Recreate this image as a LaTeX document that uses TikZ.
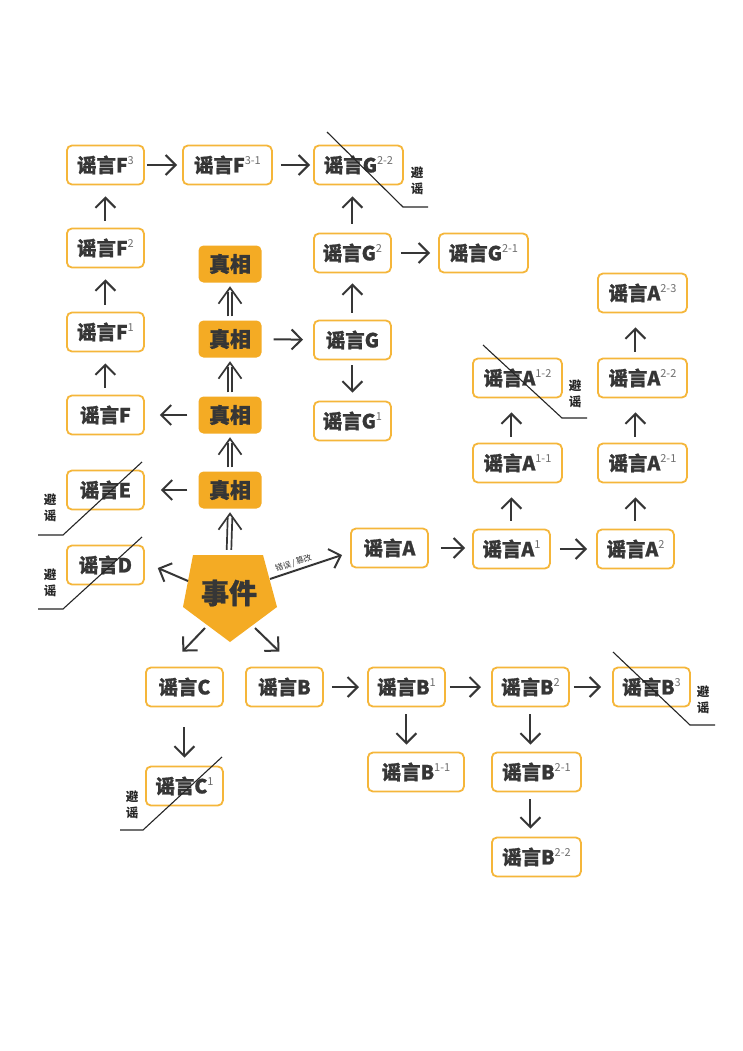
\documentclass[tikz,border=0pt]{standalone}
\usepackage{fontspec}
\setmainfont{Noto Sans CJK SC}[BoldFeatures={FakeBold=1.0}]
\newfontfamily\plainf{Noto Sans CJK SC}
\usetikzlibrary{arrows.meta}
\definecolor{bord}{HTML}{F5B63A}
\definecolor{fillo}{HTML}{F4AB24}
\definecolor{ink}{HTML}{363636}
\definecolor{supc}{HTML}{6E6E6E}
\newcommand\sx[1]{\raisebox{7.5pt}{\mdseries\fontsize{11pt}{11pt}\selectfont\color{supc}#1}}
\newcommand\dblup[2]{%
  \draw[dl] ([xshift=-2.3pt,yshift=4pt]#1.north) -- ([xshift=-2.3pt,yshift=-9pt]#2.south);
  \draw[dl] ([xshift=2.3pt,yshift=4pt]#1.north) -- ([xshift=2.3pt,yshift=-9pt]#2.south);
  \draw[dl] ([xshift=-11.5pt,yshift=-21pt]#2.south) -- ([yshift=-5pt]#2.south) -- ([xshift=11.5pt,yshift=-21pt]#2.south);}
\begin{document}
\begin{tikzpicture}[x=1pt,y=-1pt,
  rb/.style={draw=bord, line width=1.8pt, rounded corners=5pt, fill=white, minimum height=39pt, minimum width=77pt, inner xsep=3pt, inner ysep=0pt, anchor=west, text=ink, font=\bfseries\fontsize{19.5pt}{21pt}\selectfont},
  rbw/.style={rb, minimum width=89pt},
  tz/.style={fill=fillo, rounded corners=5pt, minimum width=63pt, minimum height=37pt, inner sep=0pt, text=ink, font=\bfseries\fontsize{21pt}{23pt}\selectfont},
  arr/.style={draw=ink, line width=2pt, -{Straight Barb[length=10pt,width=20pt,line width=2pt]}},
  dl/.style={draw=ink, line width=1.7pt, line join=miter},
  sl/.style={draw=black!85, line width=1.1pt},
  bz/.style={font=\plainf\bfseries\fontsize{12.5pt}{16pt}\selectfont, align=center, text=black!85, inner sep=0pt}
]
\fill[white] (0,0) rectangle (743,1051);
\useasboundingbox (0,0) rectangle (743,1051);

% event pentagon
\fill[fillo] (193,555) -- (263,555) -- (277,607) -- (230,642) -- (183,607) -- cycle;
\node[font=\bfseries\fontsize{28pt}{30pt}\selectfont, text=ink, minimum height=78pt, minimum width=60pt, inner sep=0pt] (ev) at (229,593) {事件};

% F column and top row
\node[rb] (F3) at (66,165) {谣言F\sx{3}};
\node[rbw] (F31) at (182,165) {谣言F\sx{3-1}};
\node[rbw] (G22) at (313,165) {谣言G\sx{2-2}};
\node[rb] (F2) at (66,248) {谣言F\sx{2}};
\node[rb] (F1) at (66,332) {谣言F\sx{1}};
\node[rb] (F) at (66,415) {谣言F};
\node[rb] (E) at (66,490) {谣言E};
\node[rb] (D) at (66,565) {谣言D};

% truth column
\node[tz] (T1) at (230,264) {真相};
\node[tz] (T2) at (230,339) {真相};
\node[tz] (T3) at (230,415) {真相};
\node[tz] (T4) at (230,490) {真相};

% G
\node[rb] (G2) at (313,253) {谣言G\sx{2}};
\node[rbw] (G21) at (438,253) {谣言G\sx{2-1}};
\node[rb] (G) at (313,340) {谣言G};
\node[rb] (G1) at (313,421) {谣言G\sx{1}};

% A
\node[rb] (A) at (350,548) {谣言A};
\node[rb] (A1) at (472,549) {谣言A\sx{1}};
\node[rbw] (A11) at (472,463) {谣言A\sx{1-1}};
\node[rbw] (A12) at (472,378) {谣言A\sx{1-2}};
\node[rb] (A2) at (596,549) {谣言A\sx{2}};
\node[rbw] (A21) at (597,463) {谣言A\sx{2-1}};
\node[rbw] (A22) at (597,378) {谣言A\sx{2-2}};
\node[rbw] (A23) at (597,293) {谣言A\sx{2-3}};

% B, C
\node[rb] (C) at (145,687) {谣言C};
\node[rb] (B) at (245,687) {谣言B};
\node[rb] (B1) at (367,687) {谣言B\sx{1}};
\node[rb] (B2) at (491,687) {谣言B\sx{2}};
\node[rb] (B3) at (612,687) {谣言B\sx{3}};
\node[rb] (C1) at (145,786) {谣言C\sx{1}};
\node[rbw, minimum width=96pt] (B11) at (367,772) {谣言B\sx{1-1}};
\node[rbw] (B21) at (491,772) {谣言B\sx{2-1}};
\node[rbw] (B22) at (491,857) {谣言B\sx{2-2}};

% horizontal arrows
\draw[arr, shorten <=2pt, shorten >=5pt] (F3) -- (F31);
\draw[arr, shorten <=8pt, shorten >=3pt] (F31) -- (G22);
\draw[arr, shorten <=11pt, shorten >=15pt] (T3) -- (F);
\draw[arr, shorten <=11pt, shorten >=16pt] (T4) -- (E);
\draw[arr, shorten <=12pt, shorten >=10pt] (T2) -- (G);
\draw[arr, shorten <=9pt, shorten >=8pt] (G2.east) -- (G21.west);
\draw[arr, shorten <=12pt, shorten >=7pt] (A.east) -- (A.east -| A1.west);
\draw[arr, shorten <=9pt, shorten >=9pt] (A1) -- (A2);
\draw[arr, shorten <=8pt, shorten >=8pt] (B) -- (B1);
\draw[arr, shorten <=4pt, shorten >=10pt] (B1) -- (B2);
\draw[arr, shorten <=4pt, shorten >=11pt] (B2) -- (B3);

% vertical arrows
\draw[arr, shorten <=7pt, shorten >=11pt] (F2.north) -- (F3.south);
\draw[arr, shorten <=7pt, shorten >=11pt] (F1.north) -- (F2.south);
\draw[arr, shorten <=7pt, shorten >=11pt] (F.north) -- (F1.south);
\draw[arr, shorten <=7pt, shorten >=10pt] (G.north) -- (G2.south);
\draw[arr, shorten <=5pt, shorten >=8pt] (G.south) -- (G1.north);
\draw[arr, shorten <=9pt, shorten >=11pt] (G2.north) -- (G2.north |- G22.south);
\draw[arr, shorten <=8pt, shorten >=14pt] (A1.north) -- (A11.south -| A1);
\draw[arr, shorten <=6pt, shorten >=14pt] (A11.north -| A1) -- (A12.south -| A1);
\draw[arr, shorten <=8pt, shorten >=14pt] (A2.north) -- (A21.south -| A2);
\draw[arr, shorten <=6pt, shorten >=14pt] (A21.north -| A2) -- (A22.south -| A2);
\draw[arr, shorten <=6pt, shorten >=14pt] (A22.north -| A2) -- (A23.south -| A2);
\draw[arr, shorten <=7pt, shorten >=7pt] (B1.south) -- (B11.north -| B1);
\draw[arr, shorten <=7pt, shorten >=7pt] (B2.south) -- (B21.north -| B2);
\draw[arr, shorten <=7pt, shorten >=8pt] (B21.south -| B2) -- (B22.north -| B2);
\draw[arr, shorten <=20pt, shorten >=8pt] (C.south) -- (C1.north);

% double arrows
\dblup{T4}{T3}
\dblup{T3}{T2}
\dblup{T2}{T1}
\dblup{ev}{T4}

% arrows from the event
\draw[arr] ([shift={(-41,-12)}]ev.center) -- ([shift={(13,3)}]D.east);
\draw[arr] ([shift={(-24,35)}]ev.center) -- ([shift={(-2,-15)}]C.north);
\draw[arr] ([shift={(26,35)}]ev.center) -- ([shift={(-5,-15)}]B.north);
\draw[arr] ([shift={(41,-14)}]ev.center) -- node[pos=0.36, above=1.5pt, sloped, font=\plainf\fontsize{8pt}{9pt}\selectfont, text=ink, inner sep=1pt] (lab) {错误\,/\,篡改} ([shift={(-8,7)}]A.west);

% rumor-refuting strike lines
\draw[sl] (327,132) -- (403,207) -- (428,207);
\node[bz] (r1) at (417,181) {避\\谣};
\draw[sl] (142,462) -- (63,535) -- (38,535);
\node[bz] (r2) at (50,508) {避\\谣};
\draw[sl] (142,537) -- (63,609) -- (38,609);
\node[bz] (r3) at (50,583) {避\\谣};
\draw[sl] (483,345) -- (562,418) -- (587,418);
\node[bz] (r4) at (575,394) {避\\谣};
\draw[sl] (613,652) -- (690,725) -- (715,725);
\node[bz] (r5) at (703,700) {避\\谣};
\draw[sl] (222,757) -- (143,830) -- (120,830);
\node[bz] (r6) at (132,805) {避\\谣};
\end{tikzpicture}
\end{document}
